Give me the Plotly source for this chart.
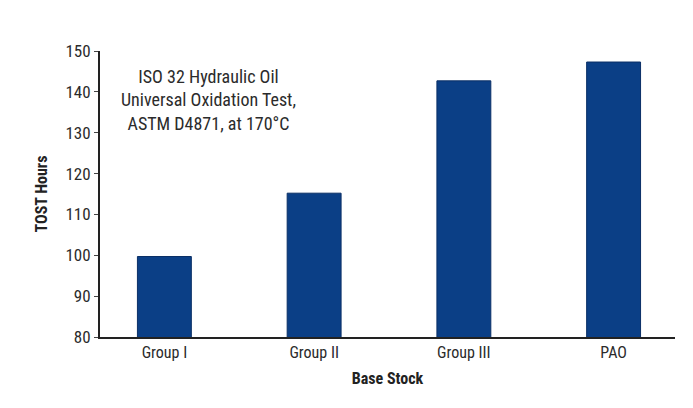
import plotly.graph_objects as go

categories = ["Group I", "Group II", "Group III", "PAO"]
tost_hours = [99.7, 115.2, 142.7, 147.3]
y_ticks = [80, 90, 100, 110, 120, 130, 140, 150]
note_lines = ["ISO 32 Hydraulic Oil", "Universal Oxidation Test,", "ASTM D4871, at 170°C"]

FONT = "Liberation Sans Narrow, Arial Narrow, Roboto Condensed, sans-serif"
TXT = "#2b2b2b"

fig = go.Figure(go.Bar(
    x=categories, y=tost_hours, width=0.36,
    marker=dict(color="#0b3f86", line=dict(color="#0a2f66", width=1)),
))

fig.update_layout(
    width=693, height=408,
    margin=dict(l=92, r=26, t=43, b=79),
    paper_bgcolor="white", plot_bgcolor="white",
    showlegend=False,
    font=dict(family=FONT, color=TXT, size=16),
    xaxis=dict(
        range=[-0.43, 3.41], showline=True, linecolor="#222222", linewidth=2,
        ticks="", showgrid=False, tickfont=dict(size=16, color=TXT),
        title=dict(text="<b>Base Stock</b>", font=dict(size=16, color="#222222"), standoff=12),
    ),
    yaxis=dict(
        range=[80, 150], tickvals=y_ticks, showline=True, linecolor="#222222", linewidth=2,
        ticks="outside", ticklen=4, tickcolor="#444444", tickwidth=1,
        showgrid=False, zeroline=False, tickfont=dict(size=17, color=TXT),
        title=dict(text="<b>TOST Hours</b>", font=dict(size=16, color="#222222"), standoff=14),
    ),
)

fig.add_annotation(
    xref="paper", yref="paper", x=0.188, y=0.955, xanchor="center", yanchor="top",
    text="<br>".join(note_lines), showarrow=False, align="center",
    font=dict(size=18, color=TXT, family=FONT),
)

fig.write_html("out.html")
